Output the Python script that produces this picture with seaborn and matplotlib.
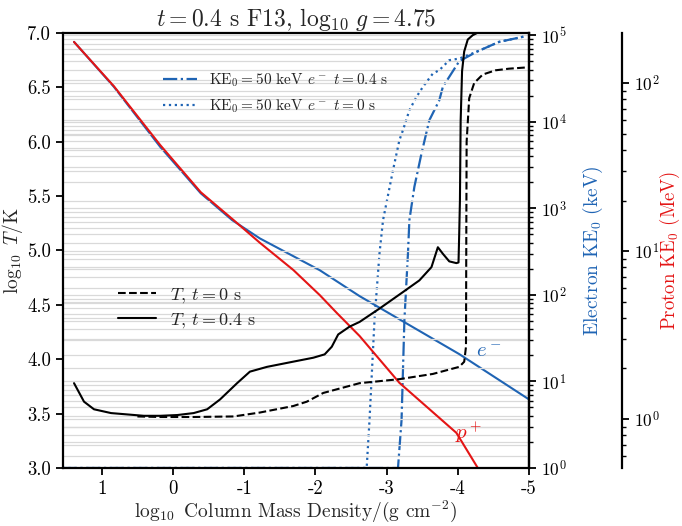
import numpy as np
import pandas as pd
import matplotlib
matplotlib.use("Agg")
import matplotlib.pyplot as plt
from matplotlib.ticker import LogLocator, NullFormatter
import seaborn as sns

# ---------------- data ----------------
# electron stopping-depth curve (KE0 in keV vs log10 column mass)
x_e_range = [1.39, 0.83, 0.18, -0.39, -0.83, -1.22, -2.06, -2.62, -4.02, -5.00]
ke_e_range = [83700, 25300, 5130, 1490, 731, 449, 193, 96.8, 20.7, 6.2]

# proton stopping-depth curve (KE0 in MeV)
x_p_range = [1.39, 0.83, 0.18, -0.39, -0.85, -1.22, -1.69, -2.06, -2.30, -2.62,
             -3.18, -3.98, -4.28, -4.35]
ke_p_range = [176, 95.9, 42.8, 22.4, 15.3, 11.2, 7.71, 5.47, 4.28, 3.12,
              1.64, 0.826, 0.511, 0.46]

# temperature at t = 0.4 s
x_T1 = [1.39, 1.25, 1.11, 0.87, 0.41, 0.18, -0.06, -0.29, -0.48, -0.66, -0.90,
        -1.08, -1.32, -1.69, -1.97, -2.13, -2.23, -2.32, -2.48, -2.62, -2.90,
        -3.23, -3.46, -3.63, -3.72, -3.79, -3.88, -3.98, -4.01, -4.02, -4.03,
        -4.04, -4.06, -4.09, -4.14, -4.21, -4.30, -4.60, -5.00]
logT1 = [3.78, 3.61, 3.54, 3.505, 3.48, 3.48, 3.487, 3.505, 3.54, 3.63, 3.78,
         3.886, 3.93, 3.978, 4.014, 4.045, 4.115, 4.228, 4.30, 4.343, 4.466,
         4.618, 4.725, 4.847, 5.03, 4.97, 4.90, 4.884, 4.89, 5.16, 5.46,
         6.19, 6.65, 6.83, 6.94, 6.98, 7.01, 7.05, 7.08]

# temperature at t = 0 s
x_T0 = [0.50, 0.18, -0.29, -0.85, -1.22, -1.69, -1.88, -2.11, -2.62, -3.18,
        -3.65, -4.02, -4.09, -4.115, -4.12, -4.124, -4.16, -4.23, -4.35, -4.53,
        -4.72, -5.00]
logT0 = [3.474, 3.469, 3.469, 3.474, 3.51, 3.57, 3.61, 3.69, 3.78, 3.817,
         3.865, 3.93, 3.977, 4.115, 5.27, 6.00, 6.40, 6.54, 6.618, 6.657,
         6.672, 6.685]

# 50 keV electron beam energy, t = 0.4 s
x_b1 = [1.55, -3.16, -3.21, -3.25, -3.30, -3.32, -3.39, -3.49, -3.60, -3.74,
        -3.79, -4.02, -4.26, -4.58, -4.95]
ke_b1 = [1, 1, 3.58, 51.2, 301, 731, 1770, 4300, 10400, 17700, 25300, 50000,
         64100, 83700, 97200]

# 50 keV electron beam energy, t = 0 s
x_b0 = [1.55, -2.72, -2.76, -2.83, -2.90, -2.95, -3.09, -3.18, -3.23, -3.32,
        -3.42, -3.51, -3.65, -3.74, -3.88, -4.02, -4.26, -4.58, -4.95]
ke_b0 = [1, 1, 3.58, 51.2, 301, 731, 2760, 6140, 8000, 13600, 19400, 25300,
         36100, 39400, 51400, 53700, 64100, 83700, 97200]

xtick_vals = [1, 0, -1, -2, -3, -4, -5]
xtick_labels = ["1", "0", "-1", "-2", "-3", "-4", "-5"]
ytick_vals = [3.0, 3.5, 4.0, 4.5, 5.0, 5.5, 6.0, 6.5, 7.0]

BLUE = "#1f64b4"
RED = "#e41515"

# ---------------- style ----------------
sns.set_style("ticks")
plt.rcParams.update({
    "font.family": "serif",
    "font.serif": ["cmr10"],
    "mathtext.fontset": "cm",
    "axes.formatter.use_mathtext": True,
    "axes.unicode_minus": False,
    "font.size": 14,
    "xtick.labelsize": 13.5,
    "ytick.labelsize": 13.5,
    "axes.linewidth": 1.6,
    "xtick.major.width": 1.3,
    "ytick.major.width": 1.3,
    "ytick.minor.width": 1.0,
    "xtick.major.size": 5,
    "ytick.major.size": 5,
    "ytick.minor.size": 3,
    "xtick.direction": "out",
    "ytick.direction": "out",
    "xtick.color": "black",
    "ytick.color": "black",
})

fig = plt.figure(figsize=(6.82, 5.26), dpi=100)
ax = fig.add_axes([63 / 682, 58 / 526, 466 / 682, 435 / 526])
ax_e = ax.twinx()
ax_p = ax.twinx()
ax_p.spines["right"].set_position(("outward", 93 * 72 / 100))
for s in ["left", "top", "bottom"]:
    ax_p.spines[s].set_visible(False)
    ax_e.spines[s].set_visible(False)

for a in (ax, ax_e, ax_p):
    for sp in a.spines.values():
        sp.set_color("black")

ax_e.set_zorder(1)
ax_p.set_zorder(2)
ax.set_zorder(3)
ax.patch.set_visible(False)

# electron axis
ax_e.set_yscale("log")
ax_e.set_ylim(1, 1.06e5)
ax_e.yaxis.set_major_locator(LogLocator(base=10, numticks=10))
ax_e.yaxis.set_minor_locator(LogLocator(base=10, subs=np.arange(2, 10), numticks=20))
ax_e.yaxis.set_minor_formatter(NullFormatter())
ax_e.tick_params(axis="y", which="major", labelsize=12.5)
ax_e.grid(which="both", axis="y", color="#d9d9d9", lw=0.9)
ax_e.set_ylabel("Electron KE$_0$ (keV)", color=BLUE, labelpad=10)

# proton axis
ax_p.set_yscale("log")
ax_p.set_ylim(0.51, 199)
ax_p.yaxis.set_major_locator(LogLocator(base=10, numticks=10))
ax_p.yaxis.set_minor_locator(LogLocator(base=10, subs=np.arange(2, 10), numticks=20))
ax_p.yaxis.set_minor_formatter(NullFormatter())
ax_p.tick_params(axis="y", which="major", labelsize=12.5)
ax_p.grid(which="both", axis="y", color="#d9d9d9", lw=0.9)
ax_p.set_ylabel("Proton KE$_0$ (MeV)", color=RED, labelpad=-1.5, fontsize=13.5)

# curves
sns.lineplot(x=x_b1, y=ke_b1, ax=ax_e, color=BLUE, lw=1.6, linestyle="-.",
             sort=False, estimator=None)
sns.lineplot(x=x_b0, y=ke_b0, ax=ax_e, color=BLUE, lw=1.6, linestyle=":",
             sort=False, estimator=None)
sns.lineplot(x=x_e_range, y=ke_e_range, ax=ax_e, color=BLUE, lw=1.5,
             sort=False, estimator=None)
sns.lineplot(x=x_p_range, y=ke_p_range, ax=ax_p, color=RED, lw=1.5,
             sort=False, estimator=None)
sns.lineplot(x=x_T0, y=logT0, ax=ax, color="black", lw=1.5, linestyle="--",
             sort=False, estimator=None)
sns.lineplot(x=x_T1, y=logT1, ax=ax, color="black", lw=1.5,
             sort=False, estimator=None)

h_b1, h_b0 = ax_e.lines[0], ax_e.lines[1]
h_T0, h_T1 = ax.lines[0], ax.lines[1]

# main axis
ax.set_xlim(1.545, -5)
ax.set_ylim(3.0, 7.0)
ax.set_xticks(xtick_vals)
ax.set_xticklabels(xtick_labels)
ax.set_yticks(ytick_vals)
ax.set_yticklabels([f"{v:.1f}" for v in ytick_vals])
ax.set_xlabel(r"$\log_{10}$ Column Mass Density/(g cm$^{-2}$)", labelpad=0.5)
ax.set_ylabel(r"$\log_{10}\ T/\mathrm{K}$", labelpad=2)
ax.set_title(r"$t=0.4$ s F13, $\log_{10}\,g=4.75$", fontsize=17, pad=5)

leg1 = ax.legend([h_b1, h_b0],
                 [r"$\mathrm{KE}_0=50$ keV $e^-$ $t=0.4$ s",
                  r"$\mathrm{KE}_0=50$ keV $e^-$ $t=0$ s"],
                 loc="center left", bbox_to_anchor=(0.215, 0.862),
                 frameon=False, fontsize=11, handlelength=2.2,
                 handletextpad=0.8, labelspacing=0.55, borderpad=0,
                 borderaxespad=0)
ax.add_artist(leg1)
ax.legend([h_T0, h_T1], [r"$T$, $t=0$ s", r"$T$, $t=0.4$ s"],
          loc="center left", bbox_to_anchor=(0.118, 0.368),
          frameon=False, fontsize=13, handlelength=2.1,
          handletextpad=0.8, labelspacing=0.3, borderpad=0,
          borderaxespad=0)

ax.text(-4.44, 4.07, r"$e^-$", color=BLUE, fontsize=15, ha="center", va="center")
ax.text(-4.15, 3.33, r"$p^+$", color=RED, fontsize=15, ha="center", va="center")

fig.savefig("out.png", dpi=100)
